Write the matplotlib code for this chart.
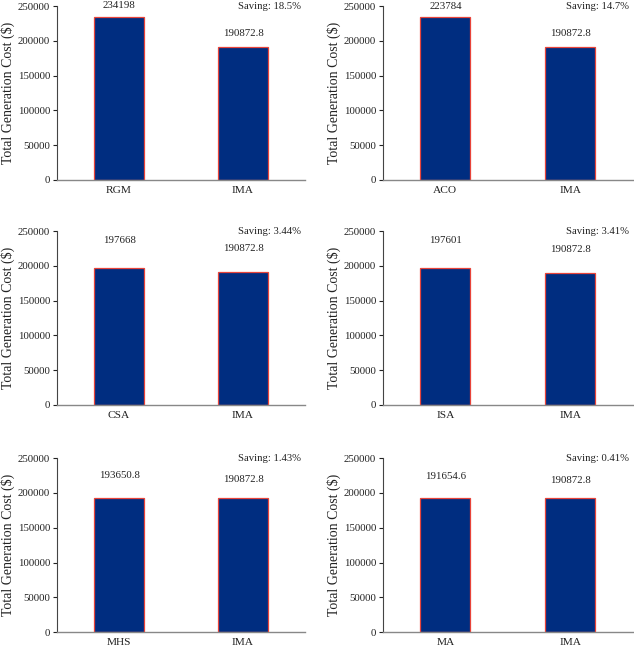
import matplotlib.pyplot as plt
import numpy as np

plt.rcParams['font.family'] = ['Liberation Serif', 'DejaVu Serif']

# one panel per competing method, each compared with IMA
methods = ["RGM", "ACO", "CSA", "ISA", "MHS", "MA"]
# bar heights as drawn in the figure
method_bars = [234198, 234000, 197000, 196500, 193300, 192300]
ima_bars = [190872.8, 190872.8, 191000, 190000, 193000, 192300]
# value labels printed above the bars
method_labels = ["234198", "223784", "197668", "197601", "193650.8", "191654.6"]
ima_labels = ["190872.8"] * 6
savings = ["18.5%", "14.7%", "3.44%", "3.41%", "1.43%", "0.41%"]

# label offsets above the bar tops (points), as placed in the figure
lab_off = [(8, 10), (8, 10), (20, 17), (20, 17), (16, 13), (16, 13)]

bar_col = "#002D80"
edge_col = "#E8443A"

fig = plt.figure(figsize=(6.34, 6.46), dpi=100)

lefts = [0.090, 0.604]
width_l = 0.391
width_r = 0.394
bottoms = [0.7214, 0.3731, 0.0215]
height = 0.2693

for i, m in enumerate(methods):
    row, col = divmod(i, 2)
    w = width_l if col == 0 else width_r
    ax = fig.add_axes([lefts[col], bottoms[row], w, height])
    x = np.arange(2)
    vals = [method_bars[i], ima_bars[i]]
    ax.bar(x, vals, width=0.4, color=bar_col, edgecolor=edge_col, linewidth=0.9)
    ax.set_xlim(-0.5, 1.5)
    ax.set_ylim(0, 250000)
    ax.set_yticks(np.arange(0, 250001, 50000))
    ax.set_xticks(x)
    ax.set_xticklabels([m, "IMA"])
    ax.tick_params(axis='x', length=0, pad=4, labelsize=8.2, colors="#222222")
    ax.tick_params(axis='y', length=3, width=0.8, pad=2, labelsize=7.8,
                   colors="#222222")
    for s in ["top", "right"]:
        ax.spines[s].set_visible(False)
    ax.spines["left"].set_color("#444444")
    ax.spines["bottom"].set_color("#888888")
    ax.spines["left"].set_linewidth(0.8)
    ax.spines["bottom"].set_linewidth(1.0)
    ax.set_ylabel("Total Generation Cost ($)", fontsize=10, labelpad=2,
                  color="#222222")

    for xi, v, lab, off in zip(x, vals, [method_labels[i], ima_labels[i]], lab_off[i]):
        ax.annotate(lab, (xi, v), xytext=(0, off), textcoords="offset points",
                    ha="center", va="center", fontsize=7.8, color="#222222")

    ax.text(0.985, 1.0, "Saving: " + savings[i], transform=ax.transAxes,
            ha="right", va="center", fontsize=7.7, color="#222222")

fig.savefig("out.png", dpi=100)
